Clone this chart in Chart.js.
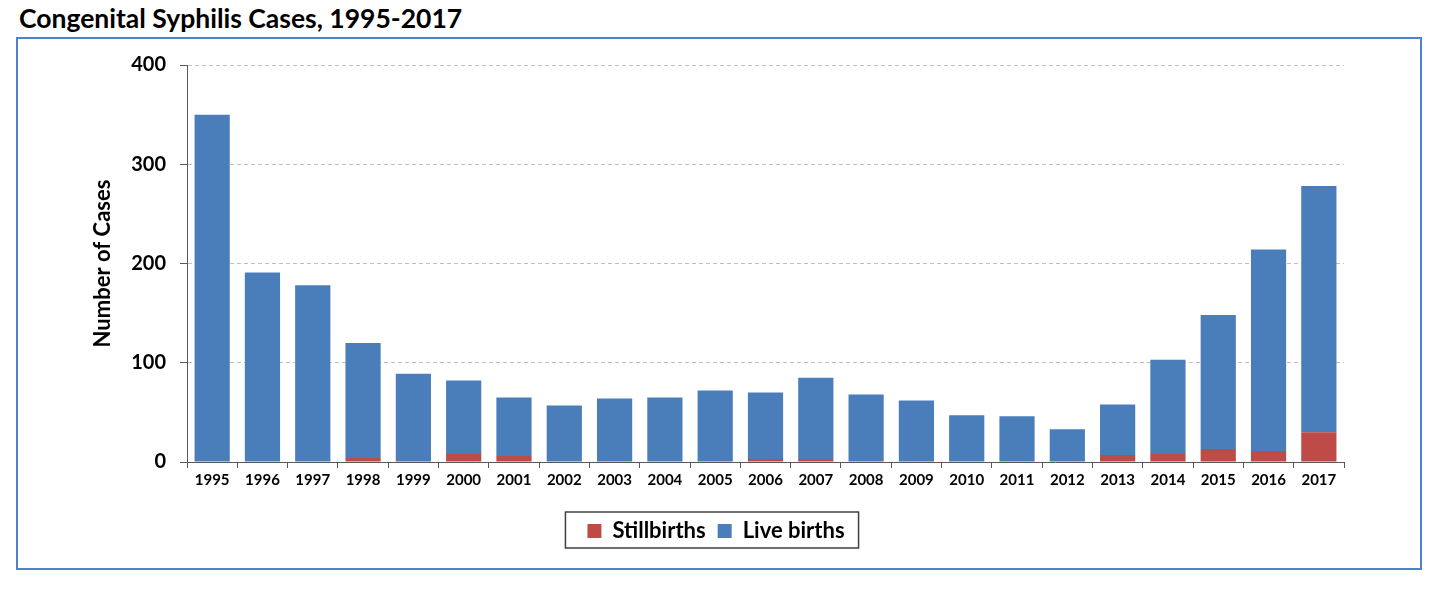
<!DOCTYPE html>
<html>
<head>
<meta charset="utf-8">
<script src="https://cdn.jsdelivr.net/npm/chart.js@4"></script>
<style>
  body { margin: 0; background: #fff; width: 1438px; height: 595px; position: relative; overflow: hidden; }
  #title { position: absolute; left: 19px; top: 2px; font: bold 26.5px Lato, sans-serif; color: #000; }
  #box { position: absolute; left: 16px; top: 37px; width: 1406px; height: 533px; border: 2px solid #4f81d0; box-sizing: border-box; }
  #casesChart { display: block; }
</style>
</head>
<body>
<div id="title">Congenital Syphilis Cases, 1995-2017</div>
<div id="box"><canvas id="casesChart" width="1402" height="529"></canvas></div>
<script>
const years = ['1995', '1996', '1997', '1998', '1999', '2000', '2001', '2002', '2003', '2004', '2005', '2006',
    '2007', '2008', '2009', '2010', '2011', '2012', '2013', '2014', '2015', '2016', '2017'];
const stillbirths = [0, 0, 0, 4, 1, 8, 6, 0, 1, 0, 1, 3, 3, 1, 1, 0, 1, 1, 7, 8, 13, 11, 30];
const liveBirths = [350, 191, 178, 116, 88, 74, 59, 57, 63, 65, 71, 67, 82, 67, 61, 47, 45, 32, 51, 95, 135, 203, 248];
const yTicks = [0, 100, 200, 300, 400];

// box round the legend, like the original
const legendFrame = {
    id: 'legendFrame',
    afterDraw(chart) {
        const boxes = chart.legend.legendHitBoxes;
        if (!boxes || !boxes.length) return;
        const left = Math.min(...boxes.map(b => b.left)) - 22;
        const right = Math.max(...boxes.map(b => b.left + b.width)) + 14;
        const top = boxes[0].top - 8;
        const bottom = boxes[0].top + boxes[0].height + 6;
        const c = chart.ctx;
        c.save();
        c.strokeStyle = '#404040';
        c.lineWidth = 1.5;
        c.strokeRect(left, top, right - left, bottom - top);
        c.restore();
    }
};

const ctx = document.getElementById('casesChart').getContext('2d');
new Chart(ctx, {
    type: 'bar',
    data: {
        labels: years,
        datasets: [{
            label: 'Stillbirths',
            data: stillbirths,
            backgroundColor: '#be4b48',
            barPercentage: 0.7,
            categoryPercentage: 1
        }, {
            label: 'Live births',
            data: liveBirths,
            backgroundColor: '#4a7ebb',
            barPercentage: 0.7,
            categoryPercentage: 1
        }]
    },
    options: {
        responsive: false,
        animation: false,
        layout: { padding: { top: 26, right: 76, left: 70, bottom: 16 } },
        plugins: {
            title: { display: false },
            tooltip: { enabled: false },
            legend: {
                position: 'bottom',
                labels: {
                    boxWidth: 14,
                    boxHeight: 14,
                    padding: 12,
                    color: '#000',
                    font: { family: 'Lato', size: 22, weight: 'bold' }
                }
            }
        },
        scales: {
            x: {
                stacked: true,
                grid: { offset: true, drawOnChartArea: false, tickLength: 6, color: '#595959' },
                border: { color: '#595959' },
                ticks: { color: '#000', padding: 3, maxRotation: 0, font: { family: 'Lato', size: 15, weight: 'bold' } },
                afterFit(scale) { scale.height = 46; }
            },
            y: {
                stacked: true,
                min: 0,
                max: 400,
                afterBuildTicks(scale) { scale.ticks = yTicks.map(v => ({ value: v })); },
                grid: { color: '#c0c0c0', tickBorderDash: [], tickColor: '#595959', tickLength: 7 },
                border: { color: '#595959', dash: [4, 3] },
                ticks: { color: '#000', padding: 14, font: { family: 'Lato', size: 20, weight: 'bold' } },
                title: {
                    display: true, text: 'Number of Cases', color: '#000',
                    padding: { top: 2, bottom: 0 },
                    font: { family: 'Lato', size: 22, weight: 'bold' }
                },
                afterFit(scale) { scale.width = 99; }
            }
        }
    },
    plugins: [legendFrame]
});
</script>
</body>
</html>
